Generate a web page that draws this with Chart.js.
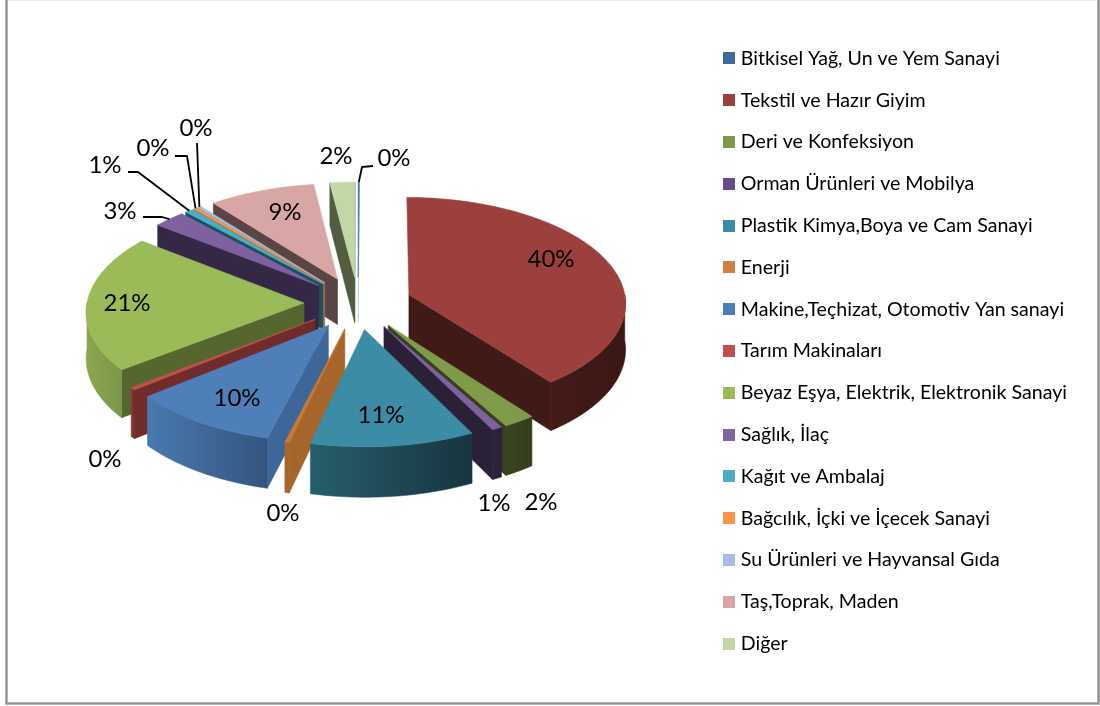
<!DOCTYPE html>
<html>
<head>
<meta charset="utf-8">
<style>html,body{margin:0;padding:0;background:#fff}#w{width:1100px;height:706px;position:relative}canvas{display:block}</style>
<script src="https://cdn.jsdelivr.net/npm/chart.js@4"></script>
</head>
<body>
<div id="w"><canvas id="c" width="1100" height="706"></canvas></div>
<script>
const categories = ["Bitkisel Yağ, Un ve Yem Sanayi","Tekstil ve Hazır Giyim","Deri ve Konfeksiyon","Orman Ürünleri ve Mobilya","Plastik Kimya,Boya ve Cam Sanayi","Enerji","Makine,Teçhizat, Otomotiv Yan sanayi","Tarım Makinaları","Beyaz Eşya, Elektrik, Elektronik Sanayi","Sağlık, İlaç","Kağıt ve Ambalaj","Bağcılık, İçki ve İçecek Sanayi","Su Ürünleri ve Hayvansal Gıda","Taş,Toprak, Maden","Diğer"];
const shares = [0.1,39.5,2.2,0.7,11.2,0.3,10.2,0.4,20.9,2.6,0.7,0.3,0.3,8.6,2.0];
const topColors = ["#4a77ad","#9b403d","#7f9a48","#7f61a0","#3d8ca5","#c87a35","#4f7fb8","#c0504d","#9bbb59","#7f61a0","#4bacc6","#f79646","#a9bcdc","#d7a6a5","#c3d6a5"];
const legendColors = ["#3f6a9f","#9b403d","#7e9a48","#654a88","#3a8ca5","#cf7f3c","#4b7db8","#c0504d","#9bbb59","#8064a2","#4bacc6","#f79646","#a9bcdc","#d9a5a4","#c3d5a4"];
const rimLeft = ["#6f93c0","#451b18","#3a4520","#2e2340","#265e6c","#a5652b","#4a79b0","#8a3a38","#8aa650","#4c3d66","#1a4f5e","#a85f25","#6e7c90","#5b4544","#515c41"];
const rimRight = ["#6f93c0","#3a1714","#333d1d","#2a2038","#17343f","#a5652b","#32557f","#702c2a","#7b964a","#4c3d66","#1a4f5e","#a85f25","#6e7c90","#5b4544","#515c41"];
const faceColors = ["#b9cbe3","#3f1a17","#36401f","#2a2038","#1e4a57","#a5652b","#3c6798","#702c2a","#56662f","#352846","#1a4f5e","#a85f25","#6e7c90","#5b4544","#515c41"];
const labelSpots = [[394,158],[551,259],[541,502],[494,503],[381,415],[283,513],[237,398],[105,459],[127,303],[120,211],[105,165],[153,148],[196,128],[285,212],[336,156]];
const leaderKnees = {0:[[362,167],[373,166]],9:[[162,217],[143,217]],10:[[138,172],[128,172]],11:[[187,156],[175,156]],12:[[197,143]]};

const CX=358, CY=303, TILT=0.485, PERSP=3100, DEPTH=46;
const proj=(u,v,z)=>{const s=1/(1-v/PERSP);return [CX+u*s, CY+TILT*v*s+z*s];};
const poly=(ctx,pts)=>{ctx.beginPath();pts.forEach((p,i)=>i?ctx.lineTo(p[0],p[1]):ctx.moveTo(p[0],p[1]));ctx.closePath();};
const paint=(ctx,pts,style)=>{poly(ctx,pts);ctx.fillStyle=style;ctx.strokeStyle=style;ctx.lineWidth=0.6;ctx.fill();ctx.stroke();};
function geom(arc,i){
  const p=arc.getProps(['startAngle','endAngle','outerRadius']);
  const mid=(p.startAngle+p.endAngle)/2, e=arc.options.offset;
  const ox=e*Math.cos(mid), oy=e*Math.sin(mid), R=p.outerRadius;
  const pt=(a,z)=>proj(ox+R*Math.cos(a),oy+R*Math.sin(a),z);
  const apex=z=>proj(ox,oy,z);
  return {a0:p.startAngle,a1:p.endAngle,mid,oy,pt,apex,i};
}
function sweep(a0,a1,fn){const n=Math.max(2,Math.ceil((a1-a0)/0.02));const o=[];for(let k=0;k<=n;k++)o.push(fn(a0+(a1-a0)*k/n));return o;}
const pie3d={
  id:'pie3d',
  beforeDraw(chart){
    const c=chart.ctx;c.save();c.fillStyle='#fff';c.fillRect(0,0,1100,706);
    c.fillStyle='#ececec';c.fillRect(6,0,1092,1);
    c.fillStyle='#b4b4b4';c.fillRect(5,0,3,705);c.fillRect(1097,0,3,705);c.fillRect(5,702,1095,3);
    c.fillStyle='#8c8c8c';c.fillRect(6,0,1,703);c.fillRect(1098,0,1,703);c.fillRect(6,703,1093,1);
    c.restore();
  },
  beforeDatasetDraw(chart,args){
    const c=chart.ctx, arcs=chart.getDatasetMeta(args.index).data;
    const gs=arcs.map(geom);
    c.save();
    [...gs].sort((a,b)=>a.oy-b.oy).forEach(g=>{
      const i=g.i;
      if(Math.cos(g.a0)<0) paint(c,[g.apex(0),g.pt(g.a0,0),g.pt(g.a0,DEPTH),g.apex(DEPTH)],faceColors[i]);
      if(Math.cos(g.a1)>0) paint(c,[g.apex(0),g.pt(g.a1,0),g.pt(g.a1,DEPTH),g.apex(DEPTH)],faceColors[i]);
      const r0=Math.max(g.a0,0), r1=Math.min(g.a1,Math.PI);
      if(r1>r0){
        const up=sweep(r0,r1,a=>g.pt(a,0)), dn=sweep(r0,r1,a=>g.pt(a,DEPTH)).reverse();
        const xs=up.map(p=>p[0]);
        const gr=c.createLinearGradient(Math.min(...xs),0,Math.max(...xs)+0.01,0);
        gr.addColorStop(0,rimLeft[i]);gr.addColorStop(1,rimRight[i]);
        paint(c,up.concat(dn),gr);
      }
    });
    gs.forEach(g=>paint(c,[g.apex(0)].concat(sweep(g.a0,g.a1,a=>g.pt(a,0))),arcs[g.i].options.backgroundColor));
    c.restore();
    return false;
  },
  afterDatasetsDraw(chart){
    const c=chart.ctx, arcs=chart.getDatasetMeta(0).data, gs=arcs.map(geom);
    c.save();
    c.strokeStyle='#000';c.lineWidth=1.8;c.lineJoin='round';
    Object.keys(leaderKnees).forEach(k=>{
      const g=gs[k], s=g.pt(g.mid,0);
      c.beginPath();c.moveTo(s[0],s[1]);leaderKnees[k].forEach(p=>c.lineTo(p[0],p[1]));c.stroke();
    });
    c.fillStyle='#000';c.font='24px Lato';c.textAlign='center';c.textBaseline='middle';
    shares.forEach((v,i)=>c.fillText(Math.round(v)+'%',labelSpots[i][0],labelSpots[i][1]));
    c.restore();
  }
};
function swatch(color){const s=document.createElement('canvas');s.width=12;s.height=12;const x=s.getContext('2d');x.fillStyle=color;x.fillRect(0,0,12,12);return s;}
new Chart(document.getElementById('c'),{
  type:'pie',
  data:{labels:categories,datasets:[{data:shares,backgroundColor:topColors,borderWidth:0,offset:54,radius:217,clip:false}]},
  options:{
    responsive:false,animation:false,
    layout:{padding:{left:0,right:23,top:0,bottom:4}},
    plugins:{
      tooltip:{enabled:false},
      legend:{position:'right',align:'center',
        labels:{usePointStyle:true,boxWidth:4,padding:22.2,color:'#000',font:{family:'Lato',size:19.6},
          generateLabels(chart){return categories.map((t,i)=>({text:t,pointStyle:swatch(legendColors[i]),fillStyle:legendColors[i],strokeStyle:legendColors[i],lineWidth:0,index:i}));}
        }
      }
    }
  },
  plugins:[pie3d]
});
</script>
</body>
</html>
